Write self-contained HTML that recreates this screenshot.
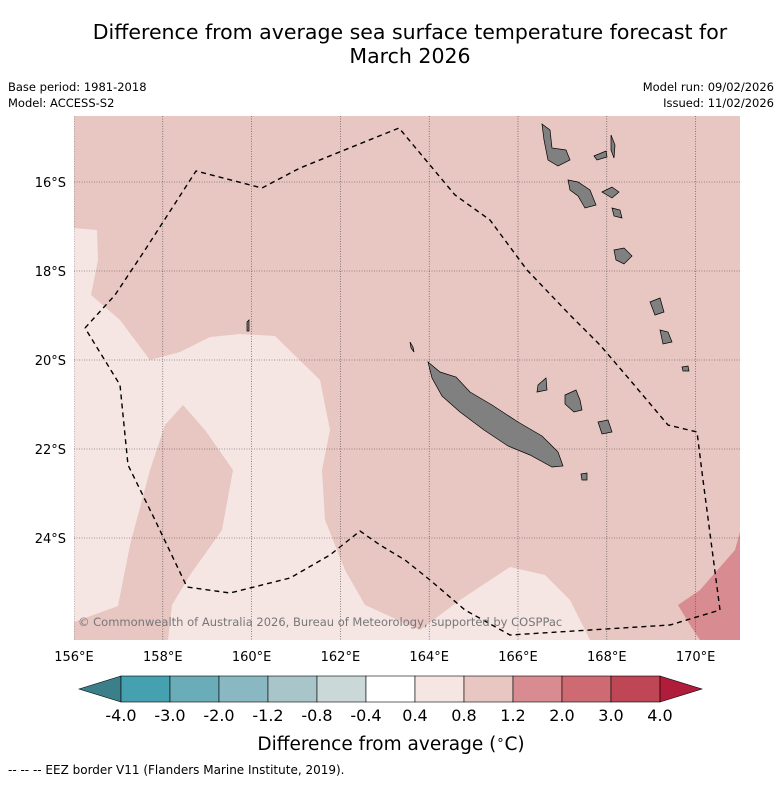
<!DOCTYPE html>
<html><head><meta charset="utf-8"><style>
body{margin:0;background:#fff;font-family:"DejaVu Sans","Liberation Sans",sans-serif;}
</style></head><body>
<svg id="chart" width="781" height="781" viewBox="0 0 781 781" xmlns="http://www.w3.org/2000/svg" font-family="DejaVu Sans, Liberation Sans, sans-serif">
<text x="410" y="39" text-anchor="middle" font-size="20.5" fill="#000">Difference from average sea surface temperature forecast for</text>
<text x="410" y="63" text-anchor="middle" font-size="20.5" fill="#000">March 2026</text>
<text x="8" y="91" font-size="11.5">Base period: 1981-2018</text>
<text x="8" y="107" font-size="11.5">Model: ACCESS-S2</text>
<text x="774" y="91" font-size="11.5" text-anchor="end">Model run: 09/02/2026</text>
<text x="774" y="107" font-size="11.5" text-anchor="end">Issued: 11/02/2026</text>
<defs><clipPath id="mapclip"><rect x="74" y="116" width="666" height="524"/></clipPath></defs>
<g id="map" clip-path="url(#mapclip)">
<rect x="74" y="116" width="666" height="524" fill="#e8c6c1"/>
<polygon fill="#f5e6e4" points="74,228 97,230 98,260 91,295 120,320 150,360 180,352 210,337 240,334 275,336 320,380 330,430 322,470 325,520 345,570 365,605 420,630 460,600 510,567 545,575 570,600 590,640 74,640"/>
<polygon fill="#e8c6c1" points="74,622 118,606 130,545 150,470 165,425 183,405 205,430 233,470 222,530 190,575 172,605 168,640 74,640"/>
<polygon fill="#d88c92" points="678,605 700,590 735,550 740,532 740,640 700,640 690,625"/>
<g id="grid" stroke="#444" stroke-width="0.6" stroke-dasharray="1,1.5"></g>
<g fill="#808080" stroke="#000" stroke-width="0.7">
<polygon points="428,362 440,372 456,377 470,392 492,405 518,422 542,436 558,452 563,466 552,467 530,455 508,446 484,430 460,412 442,396 432,378"/>
<polygon points="542,124 550,130 552,148 566,150 570,160 558,166 548,160 544,140"/>
<polygon points="594,156 606,151 607,157 597,160"/>
<polygon points="611,135 615,145 614,158 611,150"/>
<polygon points="568,180 578,182 590,190 596,205 585,208 578,196 570,190"/>
<polygon points="602,192 612,187 619,192 612,198"/>
<polygon points="612,208 620,210 622,218 614,216"/>
<polygon points="614,250 624,248 632,256 624,264 616,260"/>
<polygon points="650,302 660,298 664,312 655,315"/>
<polygon points="660,330 668,332 672,342 663,344"/>
<polygon points="565,395 576,390 580,400 582,410 574,412 565,404"/>
<polygon points="598,422 608,420 612,432 602,434"/>
<polygon points="538,385 546,378 547,390 537,392"/>
<polygon points="581,474 587,473 587,480 582,480"/>
<polygon points="410,342 413,347 414,352 411,348"/>
<polygon points="682,367 688,366 689,371 683,371"/>
<polygon points="247,322 249,320 249,331 247,331"/>
</g>
<polyline fill="none" stroke="#000" stroke-width="1.4" stroke-dasharray="5,4" points="85,328 115,295 145,250 196,171 262,188 300,168 399,128 455,195 490,220 527,270 570,315 600,345 630,380 668,425 697,432 703,480 720,610 670,625 590,630 510,635 465,610 430,580 405,560 380,545 360,531 330,555 290,578 230,593 187,587 155,520 128,465 120,385 85,328"/>
<text x="78" y="626" font-size="11.5" fill="#777">© Commonwealth of Australia 2026, Bureau of Meteorology, supported by COSPPac</text>
</g>
<g id="xticks"></g>
<g id="yticks"></g>
<g id="cbar"></g>
<text x="391" y="750" text-anchor="middle" font-size="18.5">Difference from average (<tspan font-size="13" dy="-6">∘</tspan><tspan dy="6">C)</tspan></text>
<text x="8" y="774" font-size="12">--  --  -- EEZ border V11 (Flanders Marine Institute, 2019).</text>
</svg>
<script>
const lonTicks=[156,158,160,162,164,166,168,170];
const latTicks=[16,18,20,22,24];
const cbarLabels=["-4.0","-3.0","-2.0","-1.2","-0.8","-0.4","0.4","0.8","1.2","2.0","3.0","4.0"];
const cbarColors=["#45a0b0","#6aacb8","#8ab8c2","#a8c6ca","#cbd8d8","#ffffff","#f5e6e4","#e8c6c1","#d88c92","#cd6a72","#be4655"];
const NS="http://www.w3.org/2000/svg";
const xOf=lon=>74+(lon-156)*44.4;
const yOf=lat=>182+(lat-16)*44.5;
function mk(t,a,p){const e=document.createElementNS(NS,t);for(const k in a)e.setAttribute(k,a[k]);p.appendChild(e);return e;}
const grid=document.getElementById('grid'),xt=document.getElementById('xticks'),yt=document.getElementById('yticks'),cb=document.getElementById('cbar');
lonTicks.forEach(l=>{const x=xOf(l);
 const g=mk('line',{x1:x,y1:116,x2:x,y2:640},grid);
 
 
 const t=mk('text',{x:x,y:661,'text-anchor':'middle','font-size':13},xt);t.textContent=l+'°E';
 
 });
latTicks.forEach(l=>{const y=yOf(l);
 const g=mk('line',{x1:74,y1:y,x2:740,y2:y},grid);
 
 
 const t=mk('text',{x:66,y:y+5,'text-anchor':'end','font-size':13},yt);t.textContent=l+'°S';
 
 });
const bx0=121,bw=49,by=676,bh=26;
const lt=mk('polygon',{points:`79,${by+bh/2} ${bx0},${by} ${bx0},${by+bh}`,fill:'#3a7f8a',stroke:'#000','stroke-width':0.6},cb);


cbarColors.forEach((c,i)=>{const r=mk('rect',{x:bx0+i*bw,y:by,width:bw,height:bh,fill:c,stroke:'#000','stroke-width':0.6},cb);
 
 });
const xe=bx0+cbarColors.length*bw;
const rt=mk('polygon',{points:`${xe},${by} ${xe+42},${by+bh/2} ${xe},${by+bh}`,fill:'#b01d3a',stroke:'#000','stroke-width':0.6},cb);


cbarLabels.forEach((s,i)=>{const t=mk('text',{x:bx0+i*bw,y:721,'text-anchor':'middle','font-size':16},cb);t.textContent=s;
 
 });
</script>
</body></html>
